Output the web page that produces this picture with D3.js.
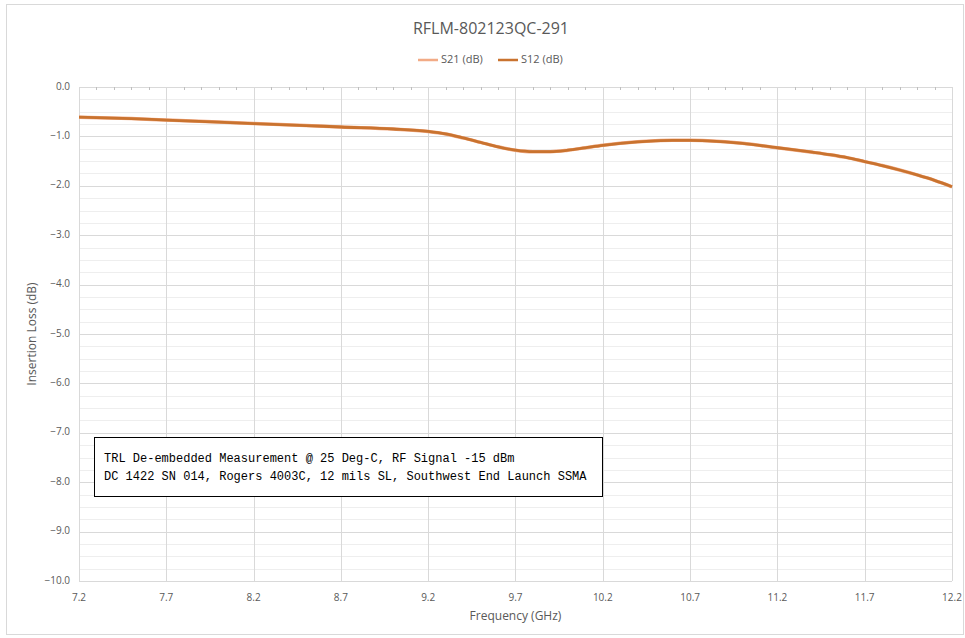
<!DOCTYPE html>
<html>
<head>
<meta charset="utf-8">
<script src="https://cdn.jsdelivr.net/npm/d3@7"></script>
<style>
  body { margin: 0; background: #fff; }
  text { font-family: "Open Sans", "Noto Sans", sans-serif; fill: #595959; }
  .note { font-family: "Liberation Mono", "DejaVu Sans Mono", monospace; fill: #000; }
</style>
</head>
<body>
<svg id="chart" width="965" height="638"></svg>
<script>
// Frequency points (GHz)
let freqs = [7.2, 7.5, 7.7, 8.0, 8.2, 8.5, 8.7, 9.0, 9.2, 9.3, 9.4, 9.5, 9.6, 9.7,
             9.8, 9.9, 10.0, 10.1, 10.2, 10.3, 10.4, 10.5, 10.6, 10.7, 10.8, 10.9,
             11.0, 11.2, 11.4, 11.5, 11.6, 11.7, 11.8, 11.9, 12.0, 12.1, 12.2];
// Insertion loss (dB)
let s21 = [-0.61, -0.64, -0.67, -0.71, -0.74, -0.78, -0.81, -0.85, -0.90, -0.95,
           -1.03, -1.12, -1.21, -1.28, -1.31, -1.31, -1.28, -1.23, -1.18, -1.14,
           -1.11, -1.09, -1.08, -1.08, -1.09, -1.11, -1.14, -1.23, -1.32, -1.37,
           -1.43, -1.51, -1.59, -1.68, -1.78, -1.89, -2.02];
let s12 = s21.slice();

let seriesNames = ['S21 (dB)', 'S12 (dB)'];
let seriesColors = ['#f2ab86', '#c9732f'];
let xTicks = [7.2, 7.7, 8.2, 8.7, 9.2, 9.7, 10.2, 10.7, 11.2, 11.7, 12.2];
let yTicks = [0, -1, -2, -3, -4, -5, -6, -7, -8, -9, -10];

let noteLines = [
  'TRL De-embedded Measurement @ 25 Deg-C, RF Signal -15 dBm',
  'DC 1422 SN 014, Rogers 4003C, 12 mils SL, Southwest End Launch SSMA'
];

let spec = {width: 965, height: 638, left: 79, right: 952, top: 87, bottom: 581};

let svg = d3.select('#chart');

// chart area border
svg.append('rect')
    .attr('x', 6.5).attr('y', 4.5)
    .attr('width', 957).attr('height', 630)
    .attr('fill', '#fff')
    .attr('stroke', '#d9d9d9');

let x = d3.scaleLinear().domain([7.2, 12.2]).range([spec.left, spec.right]);
let y = d3.scaleLinear().domain([-10, 0]).range([spec.bottom, spec.top]);

// minor horizontal grid every 0.25 dB
let minorY = d3.range(0, 41).map(i => -i * 0.25).filter(v => v % 1 !== 0);
svg.append('g').selectAll('line')
    .data(minorY)
    .join('line')
    .attr('x1', spec.left).attr('x2', spec.right)
    .attr('y1', d => Math.round(y(d)) + 0.5)
    .attr('y2', d => Math.round(y(d)) + 0.5)
    .attr('stroke', '#eeeeee');

// major grid
svg.append('g').selectAll('line')
    .data(yTicks)
    .join('line')
    .attr('x1', spec.left).attr('x2', spec.right)
    .attr('y1', d => Math.round(y(d)) + 0.5)
    .attr('y2', d => Math.round(y(d)) + 0.5)
    .attr('stroke', '#d9d9d9');
svg.append('g').selectAll('line')
    .data(xTicks)
    .join('line')
    .attr('x1', d => Math.round(x(d)) + 0.5)
    .attr('x2', d => Math.round(x(d)) + 0.5)
    .attr('y1', spec.top).attr('y2', spec.bottom)
    .attr('stroke', '#d9d9d9');

// horizontal axis sits at 0 dB (top) with minor ticks every 0.1 GHz
let minorX = d3.range(0, 51).map(i => 7.2 + i * 0.1).filter((v, i) => i % 5 !== 0);
svg.append('g').selectAll('line')
    .data(minorX)
    .join('line')
    .attr('x1', d => Math.round(x(d)) + 0.5)
    .attr('x2', d => Math.round(x(d)) + 0.5)
    .attr('y1', spec.top).attr('y2', spec.top + 3)
    .attr('stroke', '#bfbfbf');

// axis labels
svg.append('g').selectAll('text')
    .data(yTicks)
    .join('text')
    .attr('x', spec.left - 9)
    .attr('y', d => y(d))
    .attr('dominant-baseline', 'middle')
    .attr('text-anchor', 'end')
    .style('font-size', '10px')
    .text(d => d3.format('.1f')(d));
svg.append('g').selectAll('text')
    .data(xTicks)
    .join('text')
    .attr('x', d => x(d))
    .attr('y', spec.bottom + 17)
    .attr('dominant-baseline', 'middle')
    .attr('text-anchor', 'middle')
    .style('font-size', '10px')
    .text(d => d3.format('.1f')(d));

svg.append('text')
    .attr('x', (spec.left + spec.right) / 2)
    .attr('y', 617)
    .attr('dominant-baseline', 'middle')
    .attr('text-anchor', 'middle')
    .style('font-size', '12px')
    .text('Frequency (GHz)');
svg.append('text')
    .attr('transform', 'translate(33,' + (spec.top + spec.bottom) / 2 + ') rotate(-90)')
    .attr('dominant-baseline', 'middle')
    .attr('text-anchor', 'middle')
    .style('font-size', '12px')
    .text('Insertion Loss (dB)');

svg.append('text')
    .attr('x', 491)
    .attr('y', 30)
    .attr('dominant-baseline', 'middle')
    .attr('text-anchor', 'middle')
    .style('font-size', '16px')
    .text('RFLM-802123QC-291');

// legend
let legend = svg.append('g').selectAll('g')
    .data(seriesNames)
    .join('g')
    .attr('transform', (d, i) => 'translate(' + (418 + i * 80) + ',60)');
legend.append('line')
    .attr('x1', 0).attr('x2', 20)
    .attr('stroke', (d, i) => seriesColors[i])
    .attr('stroke-width', 2.5);
legend.append('text')
    .attr('x', 23)
    .attr('dominant-baseline', 'middle')
    .style('font-size', '11px')
    .text(d => d);

// series
let line = d3.line()
    .x(d => x(d[0]))
    .y(d => y(d[1]))
    .curve(d3.curveMonotoneX);
[s21, s12].forEach((vals, i) => {
  svg.append('path')
      .datum(freqs.map((f, j) => [f, vals[j]]))
      .attr('d', line)
      .attr('fill', 'none')
      .attr('stroke', seriesColors[i])
      .attr('stroke-width', i === 0 ? 3.5 : 2.8);
});

// annotation box
svg.append('rect')
    .attr('x', 94.5).attr('y', 437.5)
    .attr('width', 508).attr('height', 59)
    .attr('fill', '#fff')
    .attr('stroke', '#000');
svg.append('g').selectAll('text')
    .data(noteLines)
    .join('text')
    .attr('class', 'note')
    .attr('x', 104)
    .attr('y', (d, i) => 459 + i * 18)
    .attr('dominant-baseline', 'middle')
    .style('font-size', '12px')
    .text(d => d);
</script>
</body>
</html>
